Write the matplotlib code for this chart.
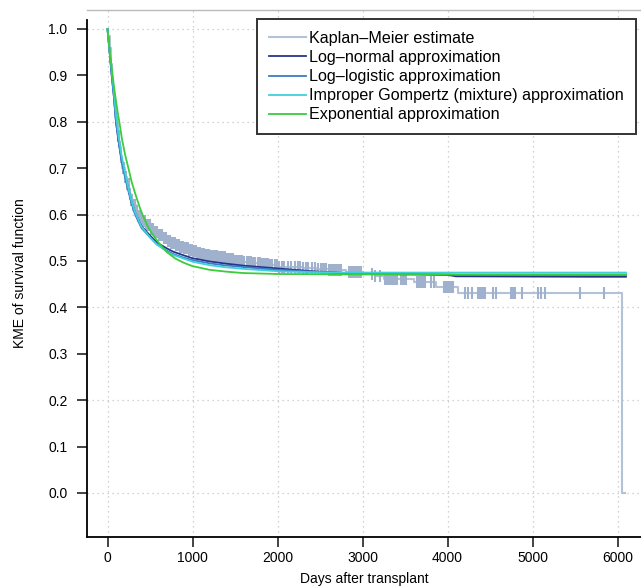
import numpy as np
import matplotlib
matplotlib.use("Agg")
import matplotlib.pyplot as plt

plt.rcParams['font.family'] = ['Liberation Sans', 'DejaVu Sans']

# Kaplan-Meier estimate (step function)
km_t = [0, 10, 25, 40, 50, 60, 75, 90, 100, 120, 140, 155, 175, 200, 226, 250,
        275, 300, 330, 360, 400, 450, 500, 550, 600, 650, 700, 750, 800, 850,
        900, 950, 1000, 1050, 1100, 1150, 1200, 1300, 1400, 1500, 1600, 1700,
        1800, 1900, 2000, 2150, 2300, 2450, 2600, 2800, 3000, 3150, 3250, 3600,
        3870, 4120, 6048, 6094]
km_s = [1.0, 0.985, 0.96, 0.925, 0.895, 0.875, 0.855, 0.825, 0.80, 0.77, 0.745,
        0.725, 0.70, 0.68, 0.665, 0.645, 0.632, 0.62, 0.607, 0.597, 0.587, 0.577,
        0.568, 0.562, 0.556, 0.549, 0.543, 0.538, 0.534, 0.530, 0.527, 0.524,
        0.521, 0.518, 0.515, 0.513, 0.511, 0.508, 0.505, 0.501, 0.498, 0.496,
        0.493, 0.491, 0.488, 0.487, 0.485, 0.483, 0.480, 0.476, 0.472, 0.468,
        0.461, 0.455, 0.445, 0.432, 0.0, 0.0]

# censoring times
cens_t = [110, 125, 138, 150, 162, 178, 190, 205, 218, 232, 248, 262, 275, 290,
          305, 318, 332, 348, 362, 378, 392, 405, 420, 436, 450, 465, 480, 496,
          510, 526, 540, 556, 570, 585, 600, 616, 630, 645, 660, 676, 690, 706,
          720, 735, 750, 766, 780, 796, 810, 826, 840, 855, 870, 886, 900, 916,
          930, 946, 960, 976, 990, 1006, 1022, 1040, 1056, 1072, 1090, 1108,
          1125, 1140, 1160, 1178, 1196, 1212, 1235, 1252, 1270, 1290, 1308,
          1326, 1345, 1365, 1384, 1402, 1420, 1440, 1460, 1480, 1500, 1518,
          1540, 1560, 1585, 1610, 1640, 1662, 1690, 1712, 1740, 1766, 1790,
          1815, 1840, 1866, 1890, 1915, 1940, 1966, 1990, 2020, 2050, 2080,
          2120, 2160, 2200, 2240, 2270, 2300, 2330, 2360, 2400, 2440, 2480,
          2510, 2530, 2550, 2570, 2610, 2630, 2650, 2670, 2690, 2710, 2730,
          2750, 2840, 2860, 2880, 2900, 2920, 2940, 2960, 2980, 3110, 3150,
          3210, 3270, 3290, 3310, 3330, 3350, 3370, 3390, 3410, 3450, 3470,
          3490, 3510, 3640, 3660, 3680, 3700, 3720, 3740, 3800, 3840, 3960,
          3980, 4000, 4020, 4040, 4060, 4206, 4245, 4292, 4360, 4380, 4400,
          4420, 4440, 4531, 4571, 4744, 4760, 4778, 4794, 4871, 5061, 5096,
          5147, 5559, 5841]

# fitted approximations
fit_t = [0, 25, 50, 75, 100, 130, 160, 200, 232, 280, 323, 400, 500, 579, 700,
         774, 900, 1000, 1200, 1363, 1600, 2000, 2400, 2735, 3200, 4000, 4100,
         5700, 6100]
lognorm_s = [1.0, 0.95, 0.90, 0.855, 0.80, 0.76, 0.725, 0.69, 0.665, 0.63, 0.605,
             0.575, 0.555, 0.54, 0.527, 0.52, 0.512, 0.506, 0.499, 0.495, 0.49,
             0.484, 0.478, 0.4745, 0.472, 0.470, 0.467, 0.466, 0.466]
loglog_s = [1.0, 0.95, 0.90, 0.855, 0.80, 0.758, 0.722, 0.686, 0.661, 0.626,
            0.601, 0.571, 0.551, 0.536, 0.522, 0.515, 0.507, 0.502, 0.495, 0.491,
            0.487, 0.481, 0.477, 0.4745, 0.473, 0.471, 0.470, 0.470, 0.470]
gomp_s = [1.0, 0.955, 0.91, 0.865, 0.815, 0.77, 0.733, 0.695, 0.668, 0.632,
          0.606, 0.574, 0.551, 0.536, 0.52, 0.513, 0.505, 0.4985, 0.491, 0.487,
          0.483, 0.478, 0.476, 0.475, 0.475, 0.475, 0.475, 0.475, 0.475]
expo_t = [0, 20, 40, 60, 80, 100, 120, 139, 170, 206, 250, 285, 330, 382, 414,
          470, 520, 600, 700, 800, 900, 1000, 1200, 1400, 1600, 2000, 3000, 6100]
expo_s = [1.0, 0.964, 0.931, 0.90, 0.87, 0.845, 0.82, 0.80, 0.763, 0.73, 0.697,
          0.67, 0.643, 0.614, 0.599, 0.576, 0.56, 0.54, 0.519, 0.505, 0.496,
          0.489, 0.481, 0.477, 0.474, 0.472, 0.471, 0.471]

labels = ["Kaplan\u2013Meier estimate", "Log\u2013normal approximation",
          "Log\u2013logistic approximation",
          "Improper Gompertz (mixture) approximation",
          "Exponential approximation"]
colors = ['#b3c2d8', '#27348b', '#3c7cc4', '#3fd0dc', '#3ccc3c']

W, H = 641, 588
fig = plt.figure(figsize=(W / 100, H / 100), dpi=100)
ax = fig.add_axes([87 / W, 51 / H, (W - 87) / W, (H - 51 - 10) / H])

# y pixel = 493 - 464*S ; x pixel = 107.5 + 0.085*t
ax.set_xlim((87 - 107.5) / 0.085, (W - 107.5) / 0.085)
ax.set_ylim((493 - 537) / 464, (493 - 10) / 464)

ax.step(km_t, km_s, where='post', color=colors[0], lw=1.5, label=labels[0])
km_t_arr = np.array(km_t)
idx = np.searchsorted(km_t_arr, cens_t, side='right') - 1
cens_s = np.array(km_s)[idx]
ax.plot(cens_t, cens_s, ls='none', marker='|', ms=8, mew=1.5, color='#9fb1cc')

ax.plot(fit_t, lognorm_s, color=colors[1], lw=1.3, label=labels[1])
ax.plot(fit_t, loglog_s, color=colors[2], lw=1.3, label=labels[2])
ax.plot(fit_t, gomp_s, color=colors[3], lw=1.3, label=labels[3])
ax.plot(expo_t, expo_s, color=colors[4], lw=1.3, label=labels[4])

ax.set_xticks([0, 1000, 2000, 3000, 4000, 5000, 6000])
ax.set_yticks(np.round(np.arange(0, 1.01, 0.1), 1))
ax.set_yticklabels(["%.1f" % v for v in np.arange(0, 1.01, 0.1)])
for g in [0, 1000, 2000, 3000, 4000, 5000, 6000]:
    ax.axvline(g, color='#c4c4c4', lw=0.9, ls=(0, (1, 3)), zorder=0)
for g in [0.0, 0.2, 0.4, 0.6, 0.8, 1.0]:
    ax.axhline(g, color='#c4c4c4', lw=0.9, ls=(0, (1, 3)), zorder=0)

ax.tick_params(axis='both', direction='out', length=7, width=1.2, labelsize=10,
               color='#222222')
ax.tick_params(axis='y', pad=7)
ax.tick_params(axis='x', pad=3)
ax.spines['right'].set_visible(False)
ax.spines['top'].set_color('#bbbbbb')
ax.spines['top'].set_linewidth(1.0)
ax.spines['left'].set_linewidth(1.3)
ax.spines['bottom'].set_linewidth(1.3)
ax.spines['left'].set_bounds((493 - 537) / 464, (493 - 20) / 464)

ax.set_xlabel("Days after transplant", fontsize=10, labelpad=5)
ax.set_ylabel("KME of survival function", fontsize=10, labelpad=15)

leg = ax.legend(loc='upper right', bbox_to_anchor=(636 / W, 1 - 19 / H),
                bbox_transform=fig.transFigure, borderaxespad=0,
                fancybox=False, framealpha=1, edgecolor='#333333',
                fontsize=11.6, handlelength=2.3, handletextpad=0.2,
                labelspacing=0.25, borderpad=0.75)
leg.get_frame().set_linewidth(1.4)

fig.savefig("out.png", dpi=100)
